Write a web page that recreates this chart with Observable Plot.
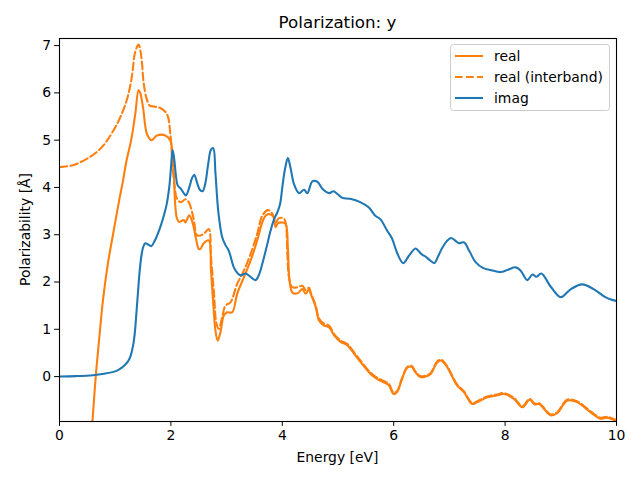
<!DOCTYPE html>
<html>
<head>
<meta charset="utf-8">
<script src="https://cdn.jsdelivr.net/npm/d3@7"></script>
<script src="https://cdn.jsdelivr.net/npm/@observablehq/plot@0.6"></script>
<style>
  html, body { margin: 0; padding: 0; background: #fff; }
  #chart { width: 640px; height: 480px; }
</style>
</head>
<body>
<div id="chart"></div>
<script>
const titleText = "Polarization: y";
const xLabel = "Energy [eV]";
const yLabel = "Polarizability [Å]";
const xTicks = [0, 2, 4, 6, 8, 10];
const yTicks = [0, 1, 2, 3, 4, 5, 6, 7];
const seriesNames = ["real", "real (interband)", "imag"];

const energyImag = [0,0.3,0.6,0.8,1.0,1.08,1.15,1.23,1.28,1.32,1.35,1.38,1.41,1.44,1.47,1.50,1.54,1.58,1.65,1.70,1.74,1.80,1.86,1.92,1.97,2.00,2.03,2.06,2.09,2.12,2.18,2.23,2.27,2.33,2.38,2.42,2.47,2.52,2.57,2.62,2.67,2.72,2.76,2.80,2.85,2.92,2.98,3.04,3.13,3.20,3.25,3.34,3.42,3.52,3.58,3.64,3.72,3.79,3.86,3.91,3.96,4.00,4.05,4.10,4.15,4.21,4.30,4.39,4.45,4.54,4.63,4.72,4.84,4.92,5.00,5.08,5.22,5.40,5.55,5.67,5.76,5.88,5.97,6.06,6.17,6.27,6.39,6.45,6.51,6.57,6.65,6.73,6.80,6.87,6.95,7.03,7.10,7.17,7.26,7.36,7.47,7.60,7.75,7.92,8.05,8.19,8.28,8.40,8.49,8.56,8.65,8.82,9.00,9.17,9.38,9.59,9.80,9.90,10.0];
const imagValues = [0.0,0.01,0.03,0.06,0.11,0.16,0.22,0.32,0.45,0.65,0.9,1.33,1.8,2.24,2.55,2.73,2.82,2.80,2.76,2.85,2.95,3.13,3.35,3.62,4.0,4.4,4.79,4.6,4.25,4.05,3.97,3.88,3.83,4.0,4.2,4.27,4.1,3.95,3.92,4.1,4.5,4.8,4.83,4.3,3.5,2.95,2.78,2.66,2.31,2.18,2.14,2.18,2.12,2.04,2.15,2.38,2.75,3.09,3.35,3.47,3.65,4.0,4.4,4.62,4.4,4.07,3.88,3.95,3.88,4.13,4.12,3.97,3.88,3.92,3.85,3.78,3.76,3.69,3.58,3.40,3.33,3.09,2.92,2.62,2.40,2.55,2.71,2.65,2.58,2.54,2.46,2.40,2.55,2.72,2.86,2.93,2.88,2.82,2.84,2.65,2.42,2.30,2.25,2.21,2.26,2.31,2.24,2.04,2.16,2.11,2.18,1.90,1.68,1.84,1.95,1.85,1.68,1.63,1.60];

const energyReal = [0.55,0.59,0.65,0.71,0.78,0.87,0.96,1.08,1.14,1.20,1.29,1.36,1.42,1.45,1.50,1.57,1.65,1.75,1.90,1.99,2.04,2.08,2.11,2.15,2.23,2.26,2.33,2.39,2.45,2.50,2.53,2.59,2.68,2.72,2.76,2.80,2.84,2.89,2.95,3.01,3.10,3.19,3.31,3.43,3.55,3.64,3.70,3.76,3.84,3.88,3.92,4.00,4.06,4.10,4.13,4.18,4.27,4.36,4.42,4.48,4.51,4.60,4.66,4.75,4.84,4.93,5.05,5.17,5.29,5.43,5.58,5.70,5.82,5.91,6.00,6.06,6.15,6.24,6.32,6.39,6.48,6.57,6.66,6.78,6.85,6.96,7.05,7.14,7.26,7.41,7.50,7.68,7.85,7.98,8.16,8.31,8.44,8.53,8.61,8.82,8.94,9.11,9.29,9.53,9.71,9.83,10.0];
const realValues = [-1.6,-0.97,-0.01,0.76,1.61,2.40,3.0,3.78,4.14,4.55,5.02,5.55,6.06,6.0,5.69,5.13,5.0,5.10,5.10,4.99,4.50,3.60,3.34,3.27,3.31,3.26,3.41,3.25,2.92,2.70,2.70,2.82,2.88,2.24,1.54,0.97,0.76,0.94,1.29,1.36,1.36,1.75,2.10,2.45,2.88,3.26,3.40,3.44,3.38,3.16,3.24,3.26,3.23,2.73,2.03,1.78,1.76,1.85,1.75,1.85,1.75,1.47,1.18,1.08,1.04,0.87,0.73,0.66,0.48,0.27,0.06,-0.05,-0.12,-0.18,-0.37,-0.33,-0.05,0.18,0.21,0.09,-0.01,0.0,0.05,0.30,0.34,0.20,0.0,-0.19,-0.33,-0.58,-0.54,-0.44,-0.40,-0.37,-0.47,-0.65,-0.49,-0.59,-0.58,-0.82,-0.77,-0.51,-0.54,-0.75,-0.89,-0.87,-0.94];

const energyInter = [0,0.24,0.48,0.66,0.81,0.93,1.05,1.14,1.23,1.30,1.36,1.42,1.47,1.51,1.56,1.62,1.70,1.81,1.93,1.99,2.03,2.06,2.11,2.18,2.26,2.32,2.38,2.42,2.46,2.50,2.59,2.68,2.72,2.77,2.82,2.86,2.92,2.98,3.07,3.19,3.31,3.43,3.55,3.64,3.74,3.82,3.88,3.94,4.02,4.06,4.09,4.12,4.18,4.27,4.36,4.42,4.48,4.51,4.60,4.66,4.75,4.84,4.93,5.05,5.17,5.29,5.43,5.58,5.70,5.82,5.91,6.00,6.06,6.15,6.24,6.32,6.39,6.48,6.57,6.66,6.78,6.85,6.96,7.05,7.14,7.26,7.41,7.50,7.68,7.85,7.98,8.16,8.31,8.44,8.53,8.61,8.82,8.94,9.11,9.29,9.53,9.71,9.83,10.0];
const interValues = [4.43,4.47,4.60,4.74,4.92,5.13,5.38,5.62,5.94,6.35,6.87,7.02,6.75,6.22,5.90,5.73,5.71,5.68,5.55,5.13,4.47,4.10,3.76,3.69,3.75,3.69,3.48,3.25,3.0,2.98,3.02,3.12,2.52,1.82,1.11,1.01,1.25,1.50,1.57,1.96,2.24,2.59,3.02,3.40,3.52,3.45,3.26,3.35,3.35,3.26,2.6,2.10,1.89,1.89,1.92,1.83,1.88,1.78,1.50,1.23,1.12,1.08,0.90,0.76,0.69,0.51,0.30,0.09,-0.02,-0.09,-0.15,-0.34,-0.31,-0.03,0.20,0.23,0.11,0.01,0.02,0.07,0.32,0.36,0.22,0.02,-0.17,-0.31,-0.56,-0.52,-0.42,-0.38,-0.35,-0.45,-0.63,-0.47,-0.57,-0.56,-0.80,-0.75,-0.49,-0.52,-0.73,-0.87,-0.85,-0.92];

const colorReal = "#ff7f0e";
const colorImag = "#1f77b4";

const realData = energyReal.map((e, i) => ({e, v: realValues[i]}));
const interData = energyInter.map((e, i) => ({e, v: interValues[i]}));
const imagData = energyImag.map((e, i) => ({e, v: imagValues[i]}));

const W = 640, H = 480;
const mL = 59, mR = 24, mT = 38, mB = 59;
const fs = 13.9;

const chart = Plot.plot({
  width: W, height: H,
  marginLeft: mL, marginRight: mR, marginTop: mT, marginBottom: mB,
  style: {fontFamily: "DejaVu Sans", fontSize: fs + "px", color: "black", background: "white"},
  x: {domain: [0, 10]},
  y: {domain: [-0.95, 7.15]},
  marks: [
    Plot.line(realData, {x: "e", y: "v", stroke: colorReal, strokeWidth: 2.08, curve: "catmull-rom", clip: true}),
    Plot.line(interData, {x: "e", y: "v", stroke: colorReal, strokeWidth: 2.08, strokeDasharray: "7.7,3.3", curve: "catmull-rom", clip: true}),
    Plot.line(imagData, {x: "e", y: "v", stroke: colorImag, strokeWidth: 2.08, curve: "catmull-rom", clip: true}),
    Plot.frame({stroke: "black", strokeWidth: 1.1}),
    Plot.axisX({ticks: xTicks, tickSize: 4.9, tickPadding: 3.5, label: null, tickFormat: d => String(d), fontSize: fs}),
    Plot.axisY({ticks: yTicks, tickSize: 4.9, tickPadding: 3.5, label: null, tickFormat: d => String(d), fontSize: fs})
  ]
});
document.getElementById("chart").appendChild(chart);

const svg = d3.select(chart);
const cx = mL + (W - mL - mR) / 2;
const cy = mT + (H - mT - mB) / 2;
svg.append("text").attr("x", cx).attr("y", 22).attr("text-anchor", "middle").attr("dominant-baseline", "central")
  .style("font-size", "16.7px").style("font-family", "DejaVu Sans").attr("fill", "black").text(titleText);
svg.append("text").attr("x", cx).attr("y", 457).attr("text-anchor", "middle").attr("dominant-baseline", "central")
  .style("font-size", fs + "px").style("font-family", "DejaVu Sans").attr("fill", "black").text(xLabel);
svg.append("text").attr("transform", `translate(25,${cy}) rotate(-90)`).attr("text-anchor", "middle").attr("dominant-baseline", "central")
  .style("font-size", fs + "px").style("font-family", "DejaVu Sans").attr("fill", "black").text(yLabel);

// legend
const lg = svg.append("g");
lg.append("rect").attr("x", 450.5).attr("y", 44.5).attr("width", 159).attr("height", 66).attr("rx", 3)
  .attr("fill", "white").attr("fill-opacity", 0.8).attr("stroke", "#cccccc").attr("stroke-width", 1);
const styles = [
  {stroke: colorReal, dash: null},
  {stroke: colorReal, dash: "7.7,3.3"},
  {stroke: colorImag, dash: null}
];
seriesNames.forEach((name, i) => {
  const y = 56 + i * 21;
  const ln = lg.append("line").attr("x1", 455).attr("x2", 483).attr("y1", y).attr("y2", y)
    .attr("stroke", styles[i].stroke).attr("stroke-width", 2.08);
  if (styles[i].dash) ln.attr("stroke-dasharray", styles[i].dash);
  lg.append("text").attr("x", 494).attr("y", y).attr("text-anchor", "start").attr("dominant-baseline", "central")
    .style("font-size", fs + "px").style("font-family", "DejaVu Sans").attr("fill", "black").text(name);
});
</script>
</body>
</html>
